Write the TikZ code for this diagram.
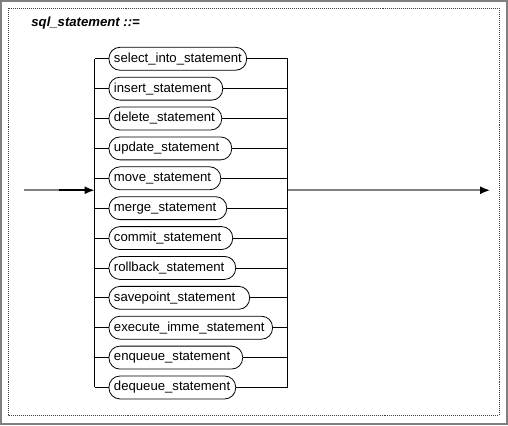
\documentclass[tikz,border=0pt]{standalone}
\usepackage{fontspec}
\setmainfont{Liberation Sans}
\usetikzlibrary{arrows.meta}

\begin{document}
\begin{tikzpicture}[
    x=1pt,
    y=-1pt,
    every node/.style={font=\fontsize{13.2}{15}\selectfont},
    stmt/.style={draw, line width=0.8pt, rounded corners=11pt, minimum height=23pt,
                 inner xsep=5pt, inner ysep=0pt, anchor=west, align=left},
    rail/.style={line width=0.8pt},
    feed/.style={line width=1.6pt, draw=gray}]

    % Frames
    \draw[line width=2pt, gray] (0,0) rectangle (508,425);
    \draw[line width=0.9pt, black!75, dash pattern=on 1pt off 1pt] (7,7) rectangle (500,416);
    \useasboundingbox (0,0) rectangle (508,425);

    % Title
    \node[anchor=west, font=\fontsize{13.2}{15}\selectfont\bfseries\itshape]
      (title) at (27,22) {sql\_statement ::=};

    % Choices (name/box width)
    \foreach \name/\w [count=\i] in {select\_into\_statement/139, insert\_statement/115,
        delete\_statement/114, update\_statement/124, move\_statement/113,
        merge\_statement/119, commit\_statement/125, rollback\_statement/128,
        savepoint\_statement/142, execute\_imme\_statement/165,
        enqueue\_statement/135, dequeue\_statement/128} {
      \pgfmathsetmacro\y{58 + (\i-1)*30}
      \pgfmathsetmacro\tw{\w - 10.8}

      % Statement box
      \node[stmt, text width=\tw pt] (s\i) at (108, \y) {\name};

      % Rail ends
      \coordinate (L\i) at (94, \y);
      \coordinate (R\i) at (288, \y);
      \draw[rail] (L\i) -- (s\i);
      \draw[rail] (s\i) -- (R\i);
    }

    % Vertical rails
    \draw[rail] (L1) -- (L12);
    \draw[rail] (R1) -- (R12);

    % Entry and exit
    \coordinate (in) at (23, 190);
    \coordinate (mid) at (58, 190);
    \coordinate (inbar) at (94, 190);
    \coordinate (outbar) at (288, 190);
    \coordinate (out) at (491, 190);
    \draw[feed] (in) -- (mid);
    \draw[rail, line width=1.6pt, -{Latex[length=10pt, width=8pt]}] (mid) -- (inbar);
    \draw[feed, -{Latex[length=10pt, width=8pt, black]}] (outbar) -- (out);
  \end{tikzpicture}
\end{document}
